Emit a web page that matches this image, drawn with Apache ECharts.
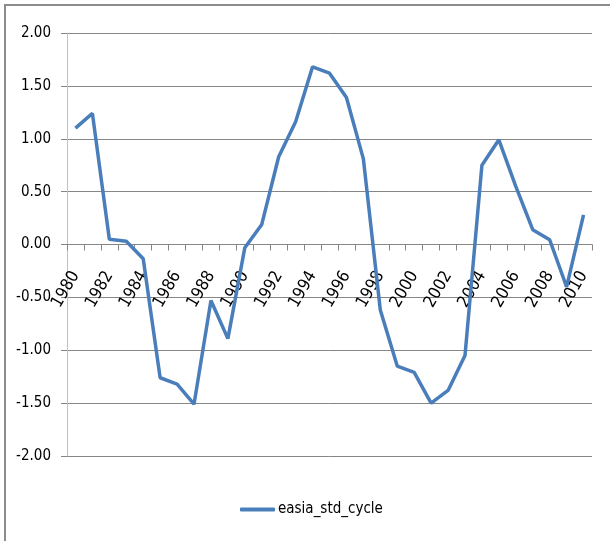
<!DOCTYPE html>
<html>
<head>
<meta charset="utf-8">
<script src="https://cdn.jsdelivr.net/npm/echarts@6/dist/echarts.min.js"></script>
<style>
html,body{margin:0;padding:0;background:#fff;}
#chart{width:610px;height:541px;}
</style>
</head>
<body>
<div id="chart"></div>
<script>
const years = ['1980','1981','1982','1983','1984','1985','1986','1987','1988','1989','1990','1991','1992','1993','1994','1995','1996','1997','1998','1999','2000','2001','2002','2003','2004','2005','2006','2007','2008','2009','2010'];
const easiaStdCycle = [1.10, 1.24, 0.05, 0.03, -0.135, -1.26, -1.32, -1.51, -0.53, -0.89, -0.03, 0.19, 0.83, 1.16, 1.68, 1.62, 1.39, 0.81, -0.62, -1.15, -1.21, -1.50, -1.38, -1.05, 0.75, 0.99, 0.55, 0.14, 0.045, -0.40, 0.28];
const seriesName = 'easia_std_cycle';

const FONT = '"DejaVu Sans Condensed", "DejaVu Sans", sans-serif';
const GRID = {left: 67, right: 18, top: 33, bottom: 85};
const plotH = 541 - GRID.top - GRID.bottom;
const chart = echarts.init(document.getElementById('chart'), null, {renderer: 'canvas'});
chart.setOption({
  animation: false,
  backgroundColor: '#fff',
  grid: Object.assign({containLabel: false}, GRID),
  graphic: [
    {type: 'line', shape: {x1: 4, y1: 5, x2: 610, y2: 5}, style: {stroke: '#8c8c8c', lineWidth: 2}},
    {type: 'line', shape: {x1: 5, y1: 5, x2: 5, y2: 541}, style: {stroke: '#8c8c8c', lineWidth: 2}}
  ],
  legend: {
    left: 240, top: 502, padding: 0,
    icon: 'roundRect',
    itemWidth: 35, itemHeight: 4, itemGap: 10,
    textStyle: {fontFamily: FONT, fontSize: 15, color: '#000', padding: [0,0,0,-2]},
    data: [seriesName]
  },
  xAxis: {
    type: 'category',
    data: years,
    boundaryGap: true,
    position: 'bottom',
    offset: -plotH / 2,
    z: 0,
    axisLine: {onZero: false, lineStyle: {color: '#868686', width: 1}},
    axisTick: {show: true, interval: 0, length: 6, inside: false, lineStyle: {color: '#868686'}},
    axisLabel: {interval: 1, rotate: 60, margin: 28, fontFamily: FONT, fontSize: 17, color: '#000'},
    splitLine: {show: false}
  },
  yAxis: {
    type: 'value',
    min: -2, max: 2, interval: 0.5,
    z: 0,
    axisLine: {show: true, lineStyle: {color: '#c0c0c0', width: 1}},
    axisTick: {show: true, length: 6, lineStyle: {color: '#868686'}},
    axisLabel: {margin: 16, fontFamily: FONT, fontSize: 15, color: '#000', formatter: v => v.toFixed(2)},
    splitLine: {show: true, lineStyle: {color: '#868686', width: 1}}
  },
  series: [{
    name: seriesName,
    type: 'line',
    zlevel: 1,
    z: 10,
    data: easiaStdCycle,
    symbol: 'none',
    smooth: false,
    lineStyle: {color: '#4a7ebb', width: 3.5},
    itemStyle: {color: '#4a7ebb'}
  }]
});
</script>
</body>
</html>
